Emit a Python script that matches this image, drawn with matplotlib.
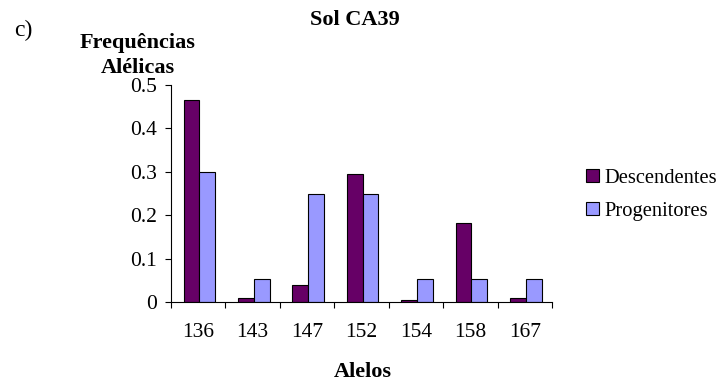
import matplotlib
matplotlib.use("Agg")
import matplotlib.pyplot as plt
import numpy as np

plt.rcParams['font.family'] = ['Liberation Serif', 'DejaVu Serif']

alelos = ['136', '143', '147', '152', '154', '158', '167']
descendentes = [0.466, 0.009, 0.040, 0.294, 0.004, 0.182, 0.009]
progenitores = [0.30, 0.053, 0.25, 0.25, 0.053, 0.053, 0.053]
yticks = [0, 0.1, 0.2, 0.3, 0.4, 0.5]
ytick_labels = ['0', '0.1', '0.2', '0.3', '0.4', '0.5']

c_desc = '#660066'
c_prog = '#9999FF'

fig = plt.figure(figsize=(7.19, 3.84), dpi=100)
ax = fig.add_axes([171/719, 1-302/384, (552-171)/719, (302-85)/384])

x = np.arange(len(alelos))
w = 0.29
ax.bar(x - w/2 + 0.02, descendentes, w, color=c_desc, edgecolor='black', linewidth=0.8, label='Descendentes')
ax.bar(x + w/2 + 0.02, progenitores, w, color=c_prog, edgecolor='black', linewidth=0.8, label='Progenitores')

ax.set_xlim(-0.5, len(alelos) - 0.5)
ax.set_ylim(0, 0.5)
ax.set_yticks(yticks)
ax.set_yticklabels(ytick_labels)
ax.set_xticks(x)
ax.set_xticklabels(alelos)
ax.set_xticks(np.arange(-0.5, len(alelos)), minor=True)
ax.tick_params(axis='x', which='major', length=0, pad=15, labelsize=15.5)
ax.tick_params(axis='x', which='minor', length=4, width=0.8, direction='out')
ax.tick_params(axis='y', length=4, width=0.8, direction='out', pad=6, labelsize=15.5)
for s in ['top', 'right']:
    ax.spines[s].set_visible(False)
for s in ['left', 'bottom']:
    ax.spines[s].set_linewidth(0.8)

fig.text(355/719, 1-20/384, 'Sol CA39', ha='center', va='center', fontsize=16, fontweight='bold')
fig.text(23/719, 1-30/384, 'c)', ha='center', va='center', fontsize=17)
fig.text(138/719, 1-43/384, 'Frequências', ha='center', va='center', fontsize=16, fontweight='bold')
fig.text(138/719, 1-68/384, 'Alélicas', ha='center', va='center', fontsize=16, fontweight='bold')
fig.text(363/719, 1-372/384, 'Alelos', ha='center', va='center', fontsize=16, fontweight='bold')

fig.legend(loc='center left', bbox_to_anchor=(576/719, 1-195/384), frameon=False,
           fontsize=14.8, handlelength=0.6, handleheight=0.6, handletextpad=0.3,
           labelspacing=0.7, borderpad=0)

fig.savefig('out.png', dpi=100)
